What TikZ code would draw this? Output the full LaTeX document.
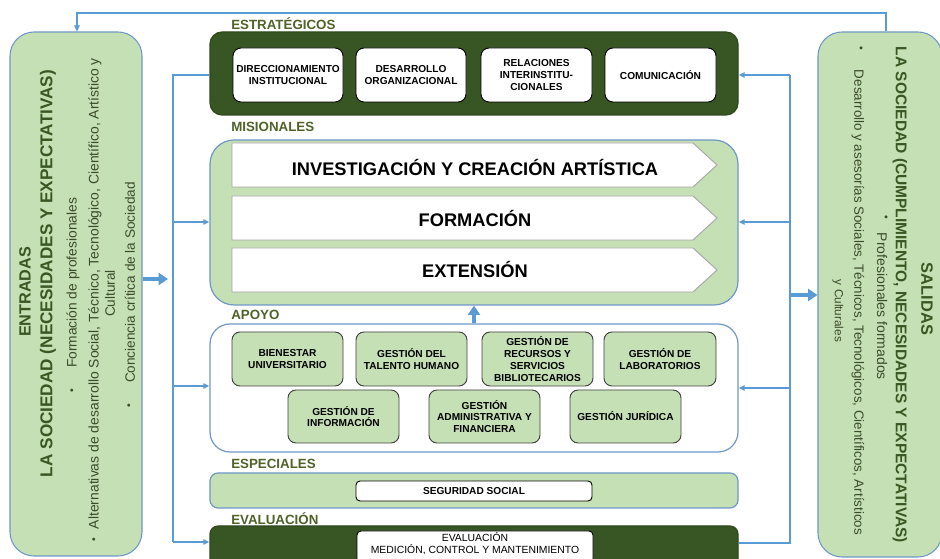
\documentclass[tikz,border=0pt]{standalone}
\usepackage{fontspec}
\setmainfont{Liberation Sans}
\usetikzlibrary{fit,arrows.meta}
\definecolor{greenL}{HTML}{C5E0B4}
\definecolor{greenD}{HTML}{375623}
\definecolor{lblc}{HTML}{4F6228}
\definecolor{blueL}{HTML}{5B9BD5}
\definecolor{bordb}{HTML}{6F97C8}
\definecolor{headc}{HTML}{385723}
\definecolor{bodyc}{HTML}{3B4A2C}
\newcommand\fw[2]{\resizebox{#1}{!}{#2}}
\begin{document}
\begin{tikzpicture}[x=0.75pt,y=-0.75pt,
  sz/.style 2 args={minimum width={#1*0.75pt},minimum height={#2*0.75pt}},
  lbl/.style={anchor=west,text=lblc,font=\bfseries\fontsize{10}{12}\selectfont,inner sep=0},
  side/.style={draw=bordb,fill=greenL,rounded corners=18pt,line width=0.8pt,inner sep=0},
  panel/.style={draw=bordb,line width=0.9pt,inner sep=0},
  wbox/.style={draw=black,fill=white,rounded corners=6pt,line width=0.7pt,inner sep=0,align=center,font=\bfseries\fontsize{7.6}{9.2}\selectfont},
  gbox/.style={draw=black!75,fill=greenL,rounded corners=6pt,line width=0.7pt,inner sep=0,align=center,font=\bfseries\fontsize{7.6}{8.9}\selectfont},
  chev/.style={draw=black!35,fill=white,line width=0.7pt},
  chevtxt/.style={font=\bfseries\fontsize{13.7}{16}\selectfont,inner sep=0},
  vl/.style={rotate=90,inner sep=0},
  vr/.style={rotate=-90,inner sep=0},
  plainconn/.style={draw=blueL,line width=1.1pt},
  conn/.style={draw=blueL,line width=1.1pt,-{Triangle[length=4.5pt,width=4pt]}},
  bigarrow/.style={draw=blueL,line width=2.8pt,-{Triangle[length=7pt,width=9pt]}}]
\useasboundingbox (0,0) rectangle (940,559);
\clip (0,0) rectangle (940,559);

% side boxes
\node[side,fit={(10,32) (142,556)}] (ent) {};
\node[side,fit={(818,32) (942,557)}] (sal) {};

% left texts
\node[vl,text=headc] (entT) at (25,292) {\fw{67.5pt}{\bfseries ENTRADAS}};
\node[vl,text=headc] (entH) at (48,273.5) {\fw{305.25pt}{\bfseries LA SOCIEDAD (NECESIDADES Y EXPECTATIVAS)}};
\node[vl,text=bodyc] (entB1) at (73,283) {\fw{127.5pt}{Formación de profesionales}};
\node[vl,text=bodyc,font=\fontsize{8}{9}\selectfont] (entD1) at (73,391) {•};
\node[vl,text=bodyc] (entB2) at (95,293.5) {\fw{353.25pt}{Alternativas de desarrollo Social, Técnico, Tecnológico, Científico, Artístico y}};
\node[vl,text=bodyc,font=\fontsize{8}{9}\selectfont] (entD2) at (95,540) {•};
\node[vl,text=bodyc] (entB2b) at (110,293.5) {\fw{35.25pt}{Cultural}};
\node[vl,text=bodyc] (entB3) at (130,282.5) {\fw{150.75pt}{Conciencia crítica de la Sociedad}};
\node[vl,text=bodyc,font=\fontsize{8}{9}\selectfont] (entD3) at (130,406) {•};

% right texts
\node[vr,text=headc] (salT) at (927,299) {\fw{54pt}{\bfseries SALIDAS}};
\node[vr,text=headc] (salH) at (900,295) {\fw{372pt}{\bfseries LA SOCIEDAD (CUMPLIMIENTO, NECESIDADES Y EXPECTATIVAS)}};
\node[vr,text=bodyc,font=\fontsize{8}{9}\selectfont] (salD1) at (885,217) {•};
\node[vr,text=bodyc] (salB1) at (882,306.5) {\fw{110.25pt}{Profesionales formados}};
\node[vr,text=bodyc,font=\fontsize{8}{9}\selectfont] (salD2) at (860,48) {•};
\node[vr,text=bodyc] (salB2) at (858,302.5) {\fw{348.75pt}{Desarrollo y asesorías Sociales, Técnicos, Tecnológicos, Científicos, Artísticos}};
\node[vr,text=bodyc] (salB2b) at (838,311) {\fw{46.5pt}{y Culturales}};

% labels
\node[lbl] (lE) at (231,23.5) {ESTRATÉGICOS};
\node[lbl] (lM) at (231,127) {MISIONALES};
\node[lbl] (lA) at (231,315) {APOYO};
\node[lbl] (lS) at (231,464) {ESPECIALES};
\node[lbl] (lV) at (231,519) {EVALUACIÓN};

% estrategicos
\node[panel,fill=greenD,draw=greenD!85!black,rounded corners=9pt,fit={(210,32) (738,115)}] (strat) {};
\node[wbox,sz={110}{54}] (s1) at (288,75) {DIRECCIONAMIENTO\\INSTITUCIONAL};
\node[wbox,sz={110}{54}] (s2) at (411,75) {DESARROLLO\\ORGANIZACIONAL};
\node[wbox,sz={111}{54}] (s3) at (536.5,75) {RELACIONES\\INTERINSTITU-\\CIONALES};
\node[wbox,sz={111}{54}] (s4) at (660.5,75) {COMUNICACIÓN};

% misionales
\node[panel,fill=greenL,rounded corners=18pt,fit={(210,140) (738,305)}] (mis) {};
\draw[chev] (232,143) -- (693,143) -- (717,165) -- (693,187) -- (232,187) -- cycle;
\draw[chev] (232,196) -- (693,196) -- (717,218) -- (693,240) -- (232,240) -- cycle;
\draw[chev] (232,248) -- (693,248) -- (717,270) -- (693,292) -- (232,292) -- cycle;
\node[chevtxt] (m1) at (475,167) {INVESTIGACIÓN Y CREACIÓN ARTÍSTICA};
\node[chevtxt] (m2) at (475,218) {FORMACIÓN};
\node[chevtxt] (m3) at (475,269) {EXTENSIÓN};

% apoyo
\node[panel,fill=white,rounded corners=15pt,fit={(210,324) (738,452)}] (apo) {};
\node[gbox,sz={111}{54}] (a1) at (287.5,359) {BIENESTAR\\UNIVERSITARIO};
\node[gbox,sz={111}{54}] (a2) at (411.5,359) {GESTIÓN DEL\\TALENTO HUMANO};
\node[gbox,sz={111}{54}] (a3) at (537.5,359) {GESTIÓN DE\\RECURSOS Y\\SERVICIOS\\BIBLIOTECARIOS};
\node[gbox,sz={112}{54}] (a4) at (660,359) {GESTIÓN DE\\LABORATORIOS};
\node[gbox,sz={111}{53}] (a5) at (343.5,416.5) {GESTIÓN DE\\INFORMACIÓN};
\node[gbox,sz={111}{53}] (a6) at (484.5,416.5) {GESTIÓN\\ADMINISTRATIVA Y\\FINANCIERA};
\node[gbox,sz={111}{53}] (a7) at (625.5,416.5) {GESTIÓN JURÍDICA};

% especiales
\node[panel,fill=greenL,rounded corners=6pt,fit={(210,473) (738,508)}] (esp) {};
\node[wbox,rounded corners=3pt,sz={236}{20}] (ss) at (474,491) {SEGURIDAD SOCIAL};

% evaluacion
\node[panel,fill=greenD,draw=greenD!85!black,rounded corners=6pt,fit={(210,526) (738,580)}] (eva) {};
\node[wbox,rounded corners=3pt,sz={236}{32}] (ev1) at (475,547) {};
\node[align=center,inner sep=0,font=\fontsize{7.8}{9}\selectfont] (ev1t) at (475,543.5) {EVALUACIÓN\\MEDICIÓN, CONTROL Y MANTENIMIENTO};

% left connectors
\coordinate (L1) at (173,75);
\coordinate (L2) at (173,222);
\coordinate (L3) at (173,386);
\coordinate (L4) at (173,542);
\draw[plainconn] (strat.west |- L1) -- (L1) -- (L4);
\draw[conn] (L2) -- (L2 -| mis.west);
\draw[conn] (L3) -- (L3 -| apo.west);
\draw[conn] (L4) -- (L4 -| eva.west);

% right connectors
\coordinate (R1) at (790,75);
\coordinate (R2) at (790,222);
\coordinate (R3) at (790,388);
\coordinate (R4) at (790,543);
\draw[plainconn] (eva.east |- R4) -- (R4) -- (R1);
\draw[conn] (R1) -- (R1 -| strat.east);
\draw[conn] (R2) -- (R2 -| mis.east);
\draw[conn] (R3) -- (R3 -| apo.east);

% thick arrows
\coordinate (Ta) at (168,279);
\coordinate (Tb) at (790,295);
\draw[bigarrow] (ent.east |- Ta) -- (Ta);
\draw[bigarrow] (Tb) -- (Tb -| sal.west);
\draw[bigarrow] (apo.north) -- (mis.south);

% feedback loop
\coordinate (F1) at (886,13);
\coordinate (F2) at (77,13);
\draw[conn] (sal.north -| F1) -- (F1) -- (F2) -- (F2 |- ent.north);
\end{tikzpicture}
\end{document}
